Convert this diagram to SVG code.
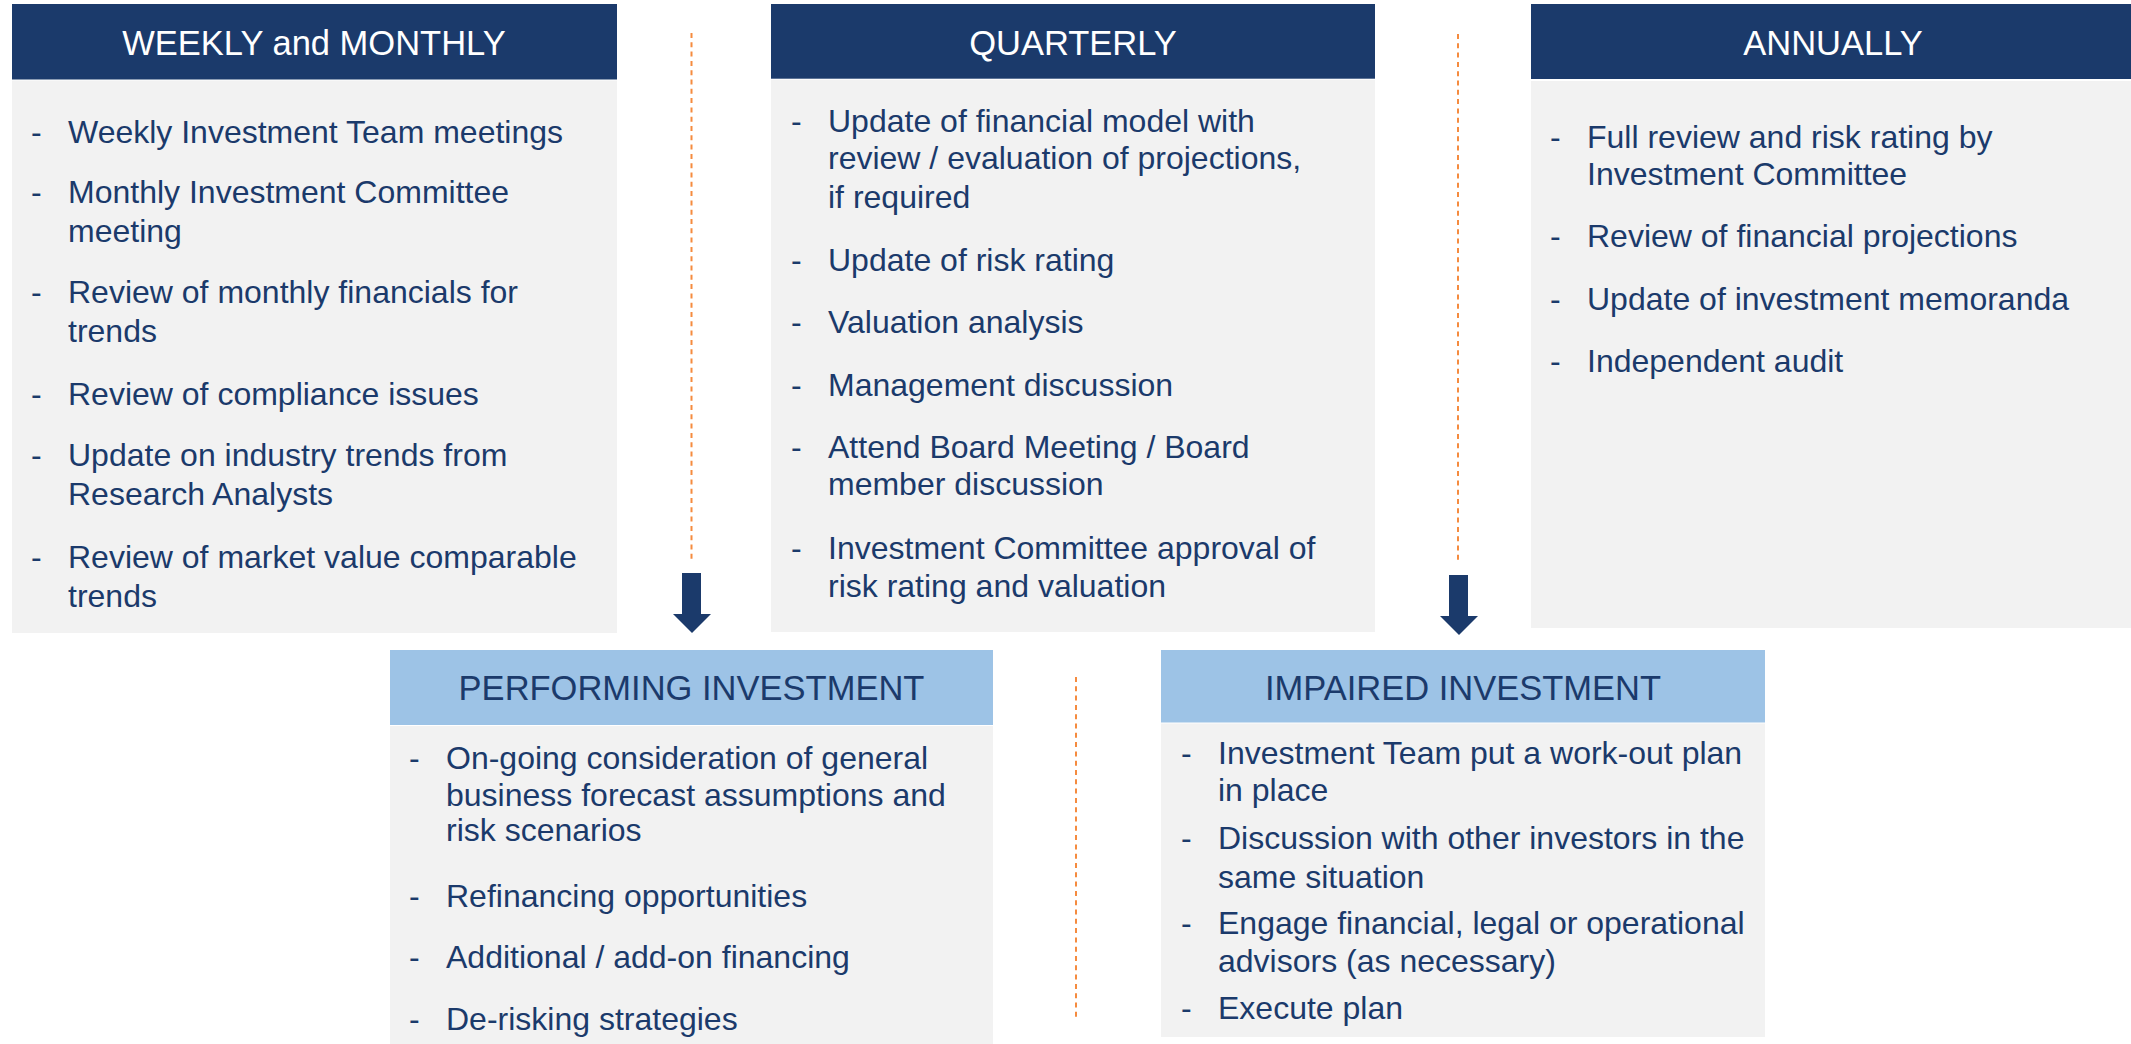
<svg xmlns="http://www.w3.org/2000/svg" width="2131" height="1044" viewBox="0 0 2131 1044">
  <style>
    .hd{fill:#1B3A6B}
    .hl{fill:#9DC3E6}
    .bd{fill:#F2F2F2}
    .ht{font-family:"Liberation Sans",Arial,sans-serif;font-size:34.5px;fill:#FFFFFF;text-anchor:middle}
    .hlt{font-family:"Liberation Sans",Arial,sans-serif;font-size:34.5px;fill:#1B3A6B;text-anchor:middle}
    .tx{font-family:"Liberation Sans",Arial,sans-serif;font-size:32px;fill:#1B3A6B}
    .dv{stroke:#F58B3F;stroke-width:2;stroke-dasharray:5 4.3;fill:none}
    .ar{fill:#1B3A6B}
  </style>
  <rect width="2131" height="1044" fill="#FFFFFF"/>

  <!-- Weekly and monthly review tasks -->
  <g id="weekly-monthly">
    <rect class="hd" x="12" y="4" width="605" height="75.5"/>
    <rect class="bd" x="12" y="80.5" width="605" height="552.5"/>
    <text class="ht" x="314" y="55">WEEKLY and MONTHLY</text>
    <g transform="translate(0,2.5)">
      <text class="tx" x="31" y="140">-</text>
      <text class="tx" x="68" y="140">Weekly Investment Team meetings</text>
      <text class="tx" x="31" y="200">-</text>
      <text class="tx" x="68" y="200">Monthly Investment Committee</text>
      <text class="tx" x="68" y="239.5">meeting</text>
      <text class="tx" x="31" y="300">-</text>
      <text class="tx" x="68" y="300">Review of monthly financials for</text>
      <text class="tx" x="68" y="339.5">trends</text>
      <text class="tx" x="31" y="402">-</text>
      <text class="tx" x="68" y="402">Review of compliance issues</text>
      <text class="tx" x="31" y="463">-</text>
      <text class="tx" x="68" y="463">Update on industry trends from</text>
      <text class="tx" x="68" y="502.5">Research Analysts</text>
      <text class="tx" x="31" y="565">-</text>
      <text class="tx" x="68" y="565">Review of market value comparable</text>
      <text class="tx" x="68" y="604.5">trends</text>
    </g>
  </g>

  <!-- Quarterly review tasks -->
  <g id="quarterly">
    <rect class="hd" x="771" y="4" width="604" height="74.7"/>
    <rect class="bd" x="771" y="79.7" width="604" height="552.3"/>
    <text class="ht" x="1073" y="55">QUARTERLY</text>
    <g transform="translate(0,2.5)">
      <text class="tx" x="791" y="129">-</text>
      <text class="tx" x="828" y="129">Update of financial model with</text>
      <text class="tx" x="828" y="166.5">review / evaluation of projections,</text>
      <text class="tx" x="828" y="205">if required</text>
      <text class="tx" x="791" y="268">-</text>
      <text class="tx" x="828" y="268">Update of risk rating</text>
      <text class="tx" x="791" y="330">-</text>
      <text class="tx" x="828" y="330">Valuation analysis</text>
      <text class="tx" x="791" y="393">-</text>
      <text class="tx" x="828" y="393">Management discussion</text>
      <text class="tx" x="791" y="455">-</text>
      <text class="tx" x="828" y="455">Attend Board Meeting / Board</text>
      <text class="tx" x="828" y="492.5">member discussion</text>
      <text class="tx" x="791" y="556">-</text>
      <text class="tx" x="828" y="556">Investment Committee approval of</text>
      <text class="tx" x="828" y="594">risk rating and valuation</text>
    </g>
  </g>

  <!-- Annual review tasks -->
  <g id="annually">
    <rect class="hd" x="1531" y="4" width="604" height="75"/>
    <rect class="bd" x="1531" y="81" width="604" height="547"/>
    <text class="ht" x="1833" y="55">ANNUALLY</text>
    <g transform="translate(0,2.5)">
      <text class="tx" x="1550" y="145">-</text>
      <text class="tx" x="1587" y="145">Full review and risk rating by</text>
      <text class="tx" x="1587" y="182.5">Investment Committee</text>
      <text class="tx" x="1550" y="244.5">-</text>
      <text class="tx" x="1587" y="244.5">Review of financial projections</text>
      <text class="tx" x="1550" y="307">-</text>
      <text class="tx" x="1587" y="307">Update of investment memoranda</text>
      <text class="tx" x="1550" y="369.5">-</text>
      <text class="tx" x="1587" y="369.5">Independent audit</text>
    </g>
  </g>

  <!-- Performing investment actions -->
  <g id="performing-investment">
    <rect class="hl" x="390" y="650" width="603" height="75"/>
    <rect class="bd" x="390" y="726" width="603" height="318"/>
    <text class="hlt" x="691.5" y="700">PERFORMING INVESTMENT</text>
    <g transform="translate(0,2.5)">
      <text class="tx" x="409" y="766">-</text>
      <text class="tx" x="446" y="766">On-going consideration of general</text>
      <text class="tx" x="446" y="803">business forecast assumptions and</text>
      <text class="tx" x="446" y="838.5">risk scenarios</text>
      <text class="tx" x="409" y="904">-</text>
      <text class="tx" x="446" y="904">Refinancing opportunities</text>
      <text class="tx" x="409" y="965">-</text>
      <text class="tx" x="446" y="965">Additional / add-on financing</text>
      <text class="tx" x="409" y="1027">-</text>
      <text class="tx" x="446" y="1027">De-risking strategies</text>
    </g>
  </g>

  <!-- Impaired investment actions -->
  <g id="impaired-investment">
    <rect class="hl" x="1161" y="650" width="604" height="72.5"/>
    <rect class="bd" x="1161" y="723.5" width="604" height="313.5"/>
    <text class="hlt" x="1463" y="699.5">IMPAIRED INVESTMENT</text>
    <g transform="translate(0,2.5)">
      <text class="tx" x="1181" y="761">-</text>
      <text class="tx" x="1218" y="761">Investment Team put a work-out plan</text>
      <text class="tx" x="1218" y="798">in place</text>
      <text class="tx" x="1181" y="846.5">-</text>
      <text class="tx" x="1218" y="846.5">Discussion with other investors in the</text>
      <text class="tx" x="1218" y="885">same situation</text>
      <text class="tx" x="1181" y="931">-</text>
      <text class="tx" x="1218" y="931">Engage financial, legal or operational</text>
      <text class="tx" x="1218" y="969">advisors (as necessary)</text>
      <text class="tx" x="1181" y="1016">-</text>
      <text class="tx" x="1218" y="1016">Execute plan</text>
    </g>
  </g>

  <!-- Dividers and flow arrows -->
  <g id="connectors">
    <line class="dv" x1="691.5" y1="33" x2="691.5" y2="560"/>
    <line class="dv" x1="1458" y1="34" x2="1458" y2="564"/>
    <line class="dv" x1="1076" y1="677" x2="1076" y2="1017"/>
    <polygon class="ar" points="682,573 701,573 701,614 711,614 692,633 673,614 682,614"/>
    <polygon class="ar" points="1449,575 1468,575 1468,616 1478,616 1459,635 1440,616 1449,616"/>
  </g>
</svg>
